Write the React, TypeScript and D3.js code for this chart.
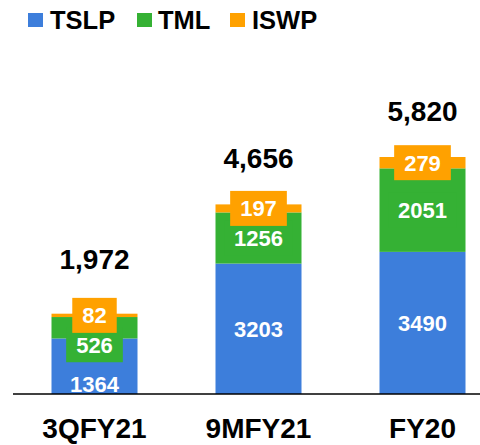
import React from "react";
import * as d3 from "d3";

const categories = ["3QFY21", "9MFY21", "FY20"];
const seriesNames = ["TSLP", "TML", "ISWP"];
const tslp = [1364, 3203, 3490];
const tml = [526, 1256, 2051];
const iswp = [82, 197, 279];
const totals = [1972, 4656, 5820];
const totalLabels = ["1,972", "4,656", "5,820"];

const colors = ["#3D7EDB", "#35B134", "#FFA100"];

// layout nudges (pixels) for crowded labels
const segLabelNudge = [
  [18, 17, 0],
  [0, 0, 0],
  [0, 0, 0],
];
const totalNudge = [9, 0, 0];

const W = 480;
const H = 445;
const baseline = 394;
const FONT = "'Liberation Sans', Arial, sans-serif";

export default function App() {
  const x = d3
    .scaleBand<string>()
    .domain(categories)
    .range([12.5, 504.5])
    .paddingInner(0.4756)
    .paddingOuter(0.2378);
  const y = d3
    .scaleLinear()
    .domain([0, d3.max(totals) as number])
    .range([baseline, 157]);

  const rows = categories.map((c, i) => ({ cat: c, TSLP: tslp[i], TML: tml[i], ISWP: iswp[i] }));
  const stack = d3.stack<any>().keys(seriesNames)(rows);

  const labelFont = 22;
  const charW = (s: string) => s.length * 0.556 * labelFont;

  return (
    <svg
      width={W}
      height={H}
      style={{ position: "absolute", left: 0, top: 0, background: "#fff" }}
      fontFamily={FONT}
    >
      {/* legend */}
      {(() => {
        const items = [
          { sq: 28, tx: 50 },
          { sq: 137, tx: 158 },
          { sq: 230, tx: 252 },
        ];
        return seriesNames.map((n, i) => (
          <g key={n}>
            <rect x={items[i].sq} y={13} width={15} height={14} fill={colors[i]} />
            <text x={items[i].tx} y={28.5} fontSize={25.5} fontWeight="bold" fill="#000">
              {n}
            </text>
          </g>
        ));
      })()}

      {/* bars */}
      {stack.map((layer, si) => (
        <g key={layer.key}>
          {layer.map((d, ci) => (
            <rect
              key={ci}
              x={x(categories[ci])}
              y={y(d[1])}
              width={x.bandwidth()}
              height={y(d[0]) - y(d[1])}
              fill={colors[si]}
            />
          ))}
        </g>
      ))}

      {/* segment labels with boxes (drawn bottom to top so upper boxes overlap) */}
      {stack.map((layer, si) => (
        <g key={"lab" + layer.key}>
          {layer.map((d, ci) => {
            const v = d[1] - d[0];
            const s = String(v);
            const cx = (x(categories[ci]) as number) + x.bandwidth() / 2;
            const cy = (y(d[0]) + y(d[1])) / 2 + segLabelNudge[ci][si];
            const bw = charW(s) + 20;
            const bh = 35;
            return (
              <g key={ci}>
                {si > 0 && (
                  <rect x={cx - bw / 2} y={cy - bh / 2} width={bw} height={bh} fill={colors[si]} />
                )}
                <text
                  x={cx}
                  y={cy + labelFont * 0.358}
                  textAnchor="middle"
                  fontSize={labelFont}
                  fontWeight="bold"
                  fill="#fff"
                >
                  {s}
                </text>
              </g>
            );
          })}
        </g>
      ))}

      {/* totals */}
      {categories.map((c, i) => (
        <text
          key={"t" + c}
          x={(x(c) as number) + x.bandwidth() / 2}
          y={y(totals[i]) - 36 - totalNudge[i]}
          textAnchor="middle"
          fontSize={28}
          fontWeight="bold"
          fill="#000"
        >
          {totalLabels[i]}
        </text>
      ))}

      {/* axis line */}
      <line x1={13} x2={480} y1={baseline} y2={baseline} stroke="#000" strokeWidth={1.5} />

      {/* category labels */}
      {categories.map((c) => (
        <text
          key={"c" + c}
          x={(x(c) as number) + x.bandwidth() / 2}
          y={438}
          textAnchor="middle"
          fontSize={28}
          fontWeight="bold"
          fill="#000"
        >
          {c}
        </text>
      ))}
    </svg>
  );
}
